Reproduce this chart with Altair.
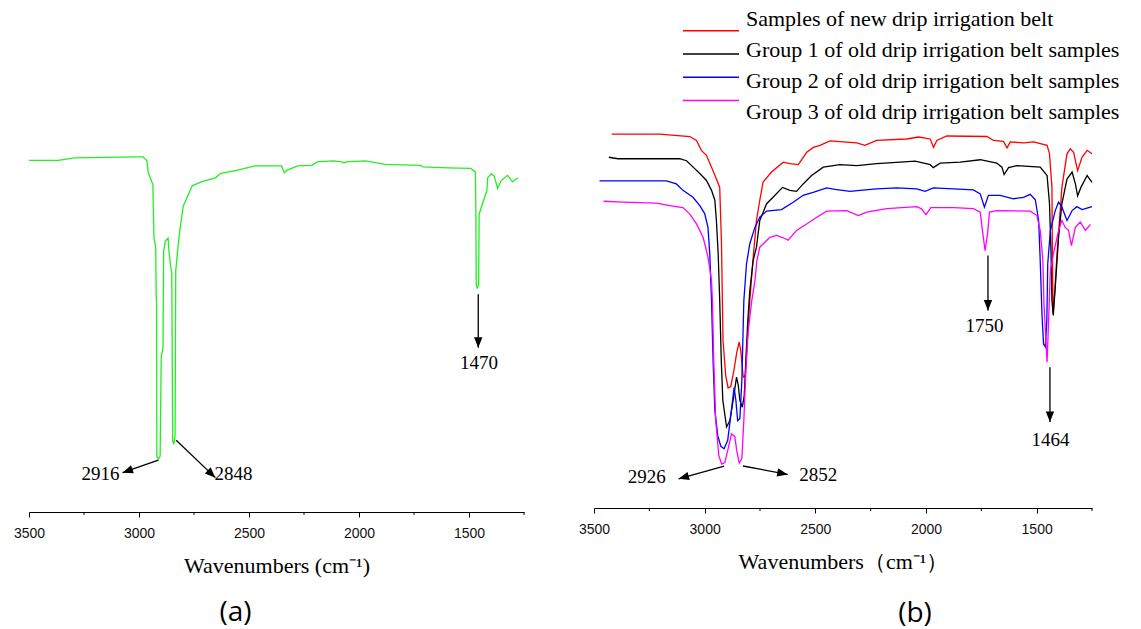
import altair as alt
import pandas as pd

# ---------------- Panel (a): single spectrum ----------------
a_wn = [3500, 3367, 3294, 3010, 2982, 2964, 2958, 2937, 2932, 2924,
        2922, 2920, 2919, 2912, 2904, 2899, 2891, 2888, 2880, 2868,
        2864, 2857, 2851, 2847, 2842, 2836, 2833, 2823, 2815, 2799,
        2782, 2758, 2717, 2653, 2628, 2555, 2474, 2360, 2352, 2339,
        2328, 2279, 2214, 2190, 2117, 2076, 2068, 2060, 1971, 1881,
        1719, 1711, 1597, 1492, 1471, 1469, 1467, 1463, 1456, 1454,
        1435, 1419, 1415, 1399, 1386, 1370, 1354, 1325, 1302, 1278]
a_t = [70.6, 70.6, 71.1, 71.3, 71.3, 70.5, 68.1, 65.8, 55.1, 53.1,
       43.7, 42.0, 11.2, 10.6, 11.2, 31.0, 33.0, 52.4, 54.4, 55.0,
       52.4, 49.7, 48.1, 14.3, 13.6, 15.3, 48.4, 53.1, 56.4, 61.4,
       63.1, 65.5, 66.3, 67.1, 68.0, 68.6, 69.5, 69.5, 69.5, 68.1,
       68.6, 69.5, 69.6, 70.3, 70.5, 70.3, 70.1, 70.3, 70.5, 69.8,
       69.6, 69.3, 69.1, 69.0, 68.3, 61.8, 45.7, 45.0, 45.7, 59.8,
       62.4, 64.5, 67.1, 67.9, 67.5, 65.0, 66.5, 67.6, 66.3, 67.1]

# annotations (a): arrow start, arrow tip, label position
a_ann_text = ["2916", "2848", "1470"]
a_ann_x1 = [2912, 2831, 1458]
a_ann_y1 = [10.4, 14.4, 43.7]
a_ann_x2 = [3075, 2653, 1458]
a_ann_y2 = [7.9, 6.9, 33.0]
a_ann_angle = [250.8, 133.7, 180]
a_lab_x = [3175, 2570, 1455]
a_lab_y = [7.6, 7.6, 29.9]

# ---------------- Panel (b): four spectra ----------------
series_names = ["Samples of new drip irrigation belt",
                "Group 1 of old drip irrigation belt samples",
                "Group 2 of old drip irrigation belt samples",
                "Group 3 of old drip irrigation belt samples"]
series_colors = ["#ff0000", "#000000", "#0000ff", "#ff00ff"]

new_wn = [3420, 3324, 3203, 3067, 3037, 3015, 2992, 2969, 2947, 2932,
          2924, 2920, 2917, 2905, 2894, 2882, 2868, 2855, 2844, 2837,
          2826, 2816, 2805, 2796, 2782, 2766, 2751, 2736, 2698, 2645,
          2615, 2577, 2539, 2509, 2479, 2434, 2313, 2276, 2223, 2087,
          2034, 1981, 1966, 1951, 1906, 1725, 1695, 1650, 1634, 1619,
          1559, 1514, 1453, 1442, 1431, 1429, 1426, 1418, 1408, 1386,
          1363, 1348, 1333, 1315, 1295, 1272, 1250]
new_t = [75.7, 75.7, 75.7, 75.2, 74.4, 72.4, 71.4, 69.0, 66.6, 64.9,
         53.5, 42.0, 33.9, 26.8, 24.3, 24.6, 27.8, 31.5, 33.6, 31.9,
         26.5, 26.8, 35.9, 42.0, 50.1, 58.2, 62.3, 66.0, 68.0, 70.0,
         69.7, 69.5, 72.0, 73.0, 73.4, 74.3, 73.9, 73.4, 74.4, 74.7,
         75.1, 74.7, 73.0, 74.4, 75.3, 75.2, 74.4, 74.2, 72.9, 74.1,
         73.9, 74.1, 73.4, 71.7, 64.9, 52.1, 39.3, 44.0, 51.5, 64.9,
         71.7, 72.7, 72.0, 68.3, 71.0, 72.4, 71.7]

g1_wn = [3433, 3392, 3113, 3082, 3045, 3022, 2992, 2969, 2954, 2947,
         2939, 2932, 2925, 2918, 2901, 2886, 2868, 2856, 2848, 2841,
         2830, 2821, 2814, 2805, 2796, 2781, 2766, 2751, 2720, 2691,
         2648, 2615, 2585, 2555, 2517, 2464, 2389, 2313, 2223, 2117,
         2049, 1981, 1967, 1936, 1846, 1755, 1680, 1657, 1647, 1627,
         1589, 1484, 1453, 1442, 1435, 1431, 1425, 1416, 1401, 1386,
         1363, 1340, 1325, 1315, 1300, 1272, 1250]
g1_t = [71.0, 70.7, 70.7, 70.3, 68.7, 67.7, 66.3, 64.3, 62.3, 58.2,
        51.5, 42.0, 29.9, 21.8, 16.4, 17.7, 22.8, 26.5, 24.8, 21.8,
        20.4, 22.8, 29.9, 38.0, 44.0, 50.1, 52.8, 58.2, 61.6, 62.9,
        64.9, 64.3, 64.1, 65.6, 67.3, 69.0, 69.5, 69.3, 69.7, 70.0,
        70.2, 69.5, 68.9, 69.8, 70.0, 70.5, 69.8, 69.0, 67.5, 68.9,
        69.3, 69.0, 67.3, 61.6, 51.5, 42.0, 39.0, 44.7, 54.8, 61.6,
        66.6, 68.0, 65.6, 63.2, 64.9, 67.3, 65.9]

g2_wn = [3475, 3173, 3128, 3098, 3053, 3022, 3000, 2985, 2977, 2969,
         2962, 2954, 2941, 2927, 2912, 2896, 2882, 2867, 2859, 2851,
         2841, 2832, 2823, 2811, 2796, 2773, 2751, 2720, 2653, 2600,
         2555, 2510, 2449, 2411, 2343, 2298, 2223, 2132, 2042, 2004,
         1967, 1786, 1755, 1736, 1718, 1665, 1605, 1559, 1529, 1506,
         1491, 1484, 1476, 1469, 1461, 1454, 1450, 1438, 1416, 1401,
         1386, 1363, 1340, 1318, 1295, 1265, 1250]
g2_t = [66.2, 66.2, 65.6, 64.3, 62.9, 61.2, 59.6, 56.8, 51.5, 42.0,
        29.9, 19.7, 14.7, 12.5, 12.0, 13.7, 18.7, 24.4, 21.8, 17.7,
        18.1, 25.8, 42.0, 49.4, 53.5, 56.8, 58.9, 60.1, 60.4, 61.9,
        63.3, 63.9, 64.8, 64.5, 64.1, 64.3, 64.6, 64.8, 64.6, 64.1,
        64.8, 64.4, 63.6, 60.9, 63.3, 63.3, 62.6, 62.9, 63.5, 62.4,
        58.2, 50.1, 39.3, 33.2, 32.6, 38.0, 49.4, 56.2, 60.2, 61.9,
        60.9, 58.2, 60.2, 61.0, 60.4, 60.8, 61.0]

g3_wn = [3457, 3369, 3218, 3158, 3098, 3067, 3037, 3007, 2985, 2969,
         2965, 2959, 2950, 2936, 2923, 2909, 2896, 2879, 2864, 2855,
         2844, 2832, 2823, 2814, 2803, 2787, 2773, 2764, 2751, 2705,
         2675, 2645, 2623, 2585, 2539, 2502, 2449, 2358, 2306, 2268,
         2177, 2042, 2022, 2000, 1978, 1876, 1786, 1755, 1743, 1733,
         1722, 1713, 1680, 1529, 1499, 1484, 1472, 1467, 1453, 1446,
         1438, 1424, 1401, 1386, 1371, 1356, 1343, 1325, 1303, 1280,
         1257]
g3_t = [62.1, 61.9, 61.7, 61.2, 60.8, 59.5, 57.5, 54.8, 50.8, 46.0,
        42.0, 29.9, 17.7, 10.6, 8.9, 9.2, 11.6, 15.0, 14.5, 11.6,
        9.1, 10.0, 17.7, 27.8, 35.9, 42.0, 46.0, 50.1, 52.8, 54.8,
        55.2, 54.7, 54.2, 56.2, 57.5, 58.6, 60.1, 60.2, 59.2, 59.9,
        60.6, 61.0, 60.6, 59.4, 60.8, 60.8, 60.6, 59.9, 55.5, 52.1,
        55.5, 59.9, 60.2, 60.1, 59.2, 56.2, 50.1, 41.3, 29.5, 38.0,
        48.1, 51.5, 56.2, 58.2, 56.8, 56.2, 53.1, 56.8, 57.9, 56.2,
        57.4]

# annotations (b)
b_ann_text = ["2926", "2852", "1750", "1464"]
b_ann_x1 = [2912, 2827, 1720, 1440]
b_ann_y1 = [8.5, 8.5, 51.1, 28.5]
b_ann_x2 = [3118, 2625, 1720, 1440]
b_ann_y2 = [5.9, 6.8, 40.0, 17.4]
b_ann_angle = [254.3, 100.6, 180, 180]
b_lab_x = [3262, 2487, 1736, 1437]
b_lab_y = [6.2, 6.6, 36.9, 13.7]

major_ticks = [3500, 3000, 2500, 2000, 1500]
minor_ticks = [3250, 2750, 2250, 1750, 1250]

# ---------------- styling helpers ----------------
SERIF = "Liberation Serif"
ARROW_SHAPE = "M0,0L-0.4,1L0.4,1Z"
H_A, H_B = 498, 494


def x_scale():
    return alt.Scale(domain=[1250, 3500], reverse=True, nice=False, zero=False)


def y_scale():
    return alt.Scale(domain=[0, 100], nice=False, zero=False)


def x_axis(title):
    return alt.Axis(
        values=major_ticks, format="d",
        grid=False, labelFlush=False, labelOverlap=False,
        domainColor="black", domainWidth=1, tickColor="black", tickWidth=1,
        tickSize=5,
        labelFont="Liberation Sans", labelFontSize=14, labelColor="#111111",
        labelPadding=9,
        title=title, titleFont=SERIF, titleFontSize=22, titleFontWeight="normal",
        titleColor="black", titlePadding=15,
    )


def minor_tick_layer(h, axis):
    return alt.Chart(pd.DataFrame({"v": minor_ticks})).mark_rule(
        color="black", strokeWidth=1).encode(
        x=alt.X("v:Q", scale=x_scale(), axis=axis),
        y=alt.value(h), y2=alt.value(h + 3))


def annotation_layers(axis, text, x1, y1, x2, y2, ang, lx, ly):
    ann = pd.DataFrame({"text": text, "x1": x1, "y1": y1, "x2": x2, "y2": y2,
                        "ang": ang, "lx": lx, "ly": ly})
    base = alt.Chart(ann)
    shaft = base.mark_rule(color="black", strokeWidth=1.3).encode(
        x=alt.X("x1:Q", scale=x_scale(), axis=axis),
        y=alt.Y("y1:Q", scale=y_scale(), axis=None),
        x2="x2:Q", y2="y2:Q")
    head = base.mark_point(shape=ARROW_SHAPE, filled=True, color="black",
                           opacity=1, size=440, strokeWidth=0).encode(
        x=alt.X("x2:Q", scale=x_scale(), axis=axis),
        y=alt.Y("y2:Q", scale=y_scale(), axis=None),
        angle=alt.Angle("ang:Q", scale=None))
    labels = base.mark_text(font=SERIF, fontSize=19, color="black",
                            align="center", baseline="middle").encode(
        x=alt.X("lx:Q", scale=x_scale(), axis=axis),
        y=alt.Y("ly:Q", scale=y_scale(), axis=None),
        text="text:N")
    return [shaft, head, labels]


# ---------------- Panel (a) ----------------
axis_a = x_axis("Wavenumbers (cm⁻¹)")
df_a = pd.DataFrame({"wn": a_wn, "t": a_t, "i": list(range(len(a_wn)))})
line_a = alt.Chart(df_a).mark_line(color="#22ee22", strokeWidth=1.3).encode(
    x=alt.X("wn:Q", scale=x_scale(), axis=axis_a),
    y=alt.Y("t:Q", scale=y_scale(), axis=None),
    order="i:Q")

panel_a = alt.layer(line_a, minor_tick_layer(H_A, axis_a), *annotation_layers(
    axis_a, a_ann_text, a_ann_x1, a_ann_y1, a_ann_x2, a_ann_y2, a_ann_angle,
    a_lab_x, a_lab_y)
).properties(
    width=495, height=H_A,
    title=alt.TitleParams("(a)", orient="bottom", anchor="middle", frame="group",
                          dx=-41, offset=23, font="Open Sans", fontSize=28,
                          fontWeight="normal", color="black"))

# ---------------- Panel (b) ----------------
axis_b = x_axis("Wavenumbers（cm⁻¹）")
rows = []
for name, wns, ts in zip(series_names, [new_wn, g1_wn, g2_wn, g3_wn],
                         [new_t, g1_t, g2_t, g3_t]):
    for k, (w, t) in enumerate(zip(wns, ts)):
        rows.append({"series": name, "wn": w, "t": t, "i": k})
df_b = pd.DataFrame(rows)

color_scale = alt.Scale(domain=series_names, range=series_colors)

lines_b = alt.Chart(df_b).mark_line(strokeWidth=1.3).encode(
    x=alt.X("wn:Q", scale=x_scale(), axis=axis_b),
    y=alt.Y("t:Q", scale=y_scale(), axis=None),
    color=alt.Color("series:N", scale=color_scale, legend=None),
    order="i:Q")

legend_df = pd.DataFrame({"series": series_names})
legend_y = alt.Y("series:N", sort=series_names,
                 scale=alt.Scale(range=[5, 98], padding=0), axis=None)
legend_rules = alt.Chart(legend_df).mark_rule(strokeWidth=1.5).encode(
    x=alt.value(89), x2=alt.value(145), y=legend_y,
    color=alt.Color("series:N", scale=color_scale, legend=None))
legend_text = alt.Chart(legend_df).mark_text(
    font=SERIF, fontSize=22, color="black", align="left", baseline="middle").encode(
    x=alt.value(152), y=legend_y, text="series:N")

panel_b = alt.layer(lines_b, minor_tick_layer(H_B, axis_b), *annotation_layers(
    axis_b, b_ann_text, b_ann_x1, b_ann_y1, b_ann_x2, b_ann_y2, b_ann_angle,
    b_lab_x, b_lab_y),
    legend_rules, legend_text
).resolve_scale(y="independent").properties(
    width=498, height=H_B,
    title=alt.TitleParams("(b)", orient="bottom", anchor="middle", frame="group",
                          dx=72, offset=28, font="Open Sans", fontSize=28,
                          fontWeight="normal", color="black"))

chart = alt.hconcat(panel_a, panel_b, spacing=53).properties(
    padding={"left": 5, "top": 0, "right": 5, "bottom": 8},
    background="white",
).configure_view(stroke=None)

chart.save("out.html", embed_options={"renderer": "svg", "actions": False})
